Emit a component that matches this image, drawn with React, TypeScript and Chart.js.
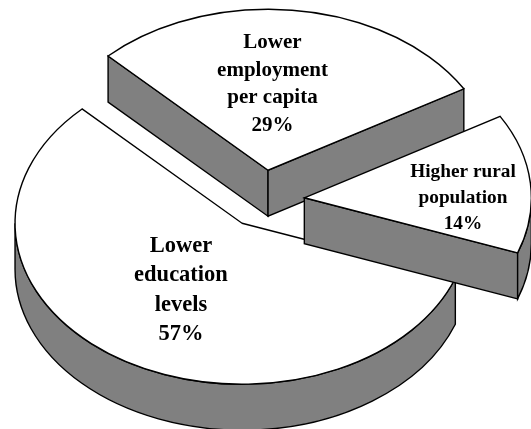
import React, { useEffect, useRef } from "react";
import { Chart, registerables } from "chart.js";

Chart.register(...registerables);

const categories = ["Lower education levels", "Lower employment per capita", "Higher rural population"];
const shares = [57, 29, 14];
const percentLabels = ["57%", "29%", "14%"];
const labelLines = [
  ["Lower", "education", "levels", "57%"],
  ["Lower", "employment", "per capita", "29%"],
  ["Higher rural", "population", "14%"],
];

// Presentation of the tilted, exploded pie
const RX = 227;
const RY = 161;
const DEPTH = 46;
const EXPLODE = [38, 43, 42];
const WALL = "#808080";
const LABEL_STYLE = [
  { x: 181, y: 246, size: 22.5, gap: 29.5 },
  { x: 272.5, y: 43, size: 21, gap: 27.5 },
  { x: 463, y: 172, size: 19.3, gap: 26 },
];

const pie3d = {
  id: "pie3d",
  beforeDatasetsDraw(chart: any) {
    const ctx: CanvasRenderingContext2D = chart.ctx;
    const arcs = chart.getDatasetMeta(0).data;
    ctx.save();
    ctx.lineWidth = 1.4;
    ctx.lineJoin = "miter";
    ctx.strokeStyle = "#000";
    arcs.forEach((arc: any, i: number) => {
      const { x, y, startAngle: a, endAngle: b } = arc.getProps(["x", "y", "startAngle", "endAngle"], true);
      const mid = (a + b) / 2;
      const ax = x + Math.cos(mid) * EXPLODE[i];
      const ay = y + (Math.sin(mid) * EXPLODE[i] * RY) / RX;
      const rim = (t: number) => [ax + RX * Math.cos(t), ay + RY * Math.sin(t)];

      const radialWall = (t: number) => {
        const [px, py] = rim(t);
        ctx.beginPath();
        ctx.moveTo(ax, ay);
        ctx.lineTo(px, py);
        ctx.lineTo(px, py + DEPTH);
        ctx.lineTo(ax, ay + DEPTH);
        ctx.closePath();
        ctx.fillStyle = WALL;
        ctx.fill();
        ctx.stroke();
      };
      if (Math.cos(a) < 0) radialWall(a);
      if (Math.cos(b) > 0) radialWall(b);

      for (let k = 0; k < 2; k++) {
        const s = Math.max(a, k * 2 * Math.PI);
        const e = Math.min(b, k * 2 * Math.PI + Math.PI);
        if (e <= s) continue;
        ctx.beginPath();
        ctx.ellipse(ax, ay, RX, RY, 0, s, e);
        ctx.ellipse(ax, ay + DEPTH, RX, RY, 0, e, s, true);
        ctx.closePath();
        ctx.fillStyle = WALL;
        ctx.fill();
        ctx.stroke();
      }

      ctx.beginPath();
      ctx.moveTo(ax, ay);
      ctx.ellipse(ax, ay, RX, RY, 0, a, b);
      ctx.closePath();
      ctx.fillStyle = "#fff";
      ctx.fill();
      ctx.stroke();
    });

    ctx.fillStyle = "#000";
    ctx.textAlign = "center";
    ctx.textBaseline = "middle";
    labelLines.forEach((lines, i) => {
      const st = LABEL_STYLE[i];
      ctx.font = `bold ${st.size}px "Liberation Serif", serif`;
      lines.forEach((line, j) => ctx.fillText(line, st.x, st.y + j * st.gap));
    });
    ctx.restore();
    return false;
  },
};

export default function App() {
  const ref = useRef<HTMLCanvasElement>(null);
  useEffect(() => {
    document.body.style.margin = "0";
    const chart = new Chart(ref.current!, {
      type: "pie",
      data: {
        labels: categories,
        datasets: [{ data: shares, backgroundColor: "#fff", borderColor: "#000", borderWidth: 0 }],
      },
      options: {
        responsive: false,
        animation: false,
        rotation: 110,
        layout: { padding: { left: 0, right: 6, top: 0, bottom: 28 } },
        plugins: {
          legend: { display: false },
          tooltip: {
            enabled: true,
            callbacks: { label: (c: any) => percentLabels[c.dataIndex] },
          },
        },
      },
      plugins: [pie3d],
    } as any);
    return () => chart.destroy();
  }, []);
  return <canvas ref={ref} width={531} height={429} style={{ display: "block" }} />;
}
